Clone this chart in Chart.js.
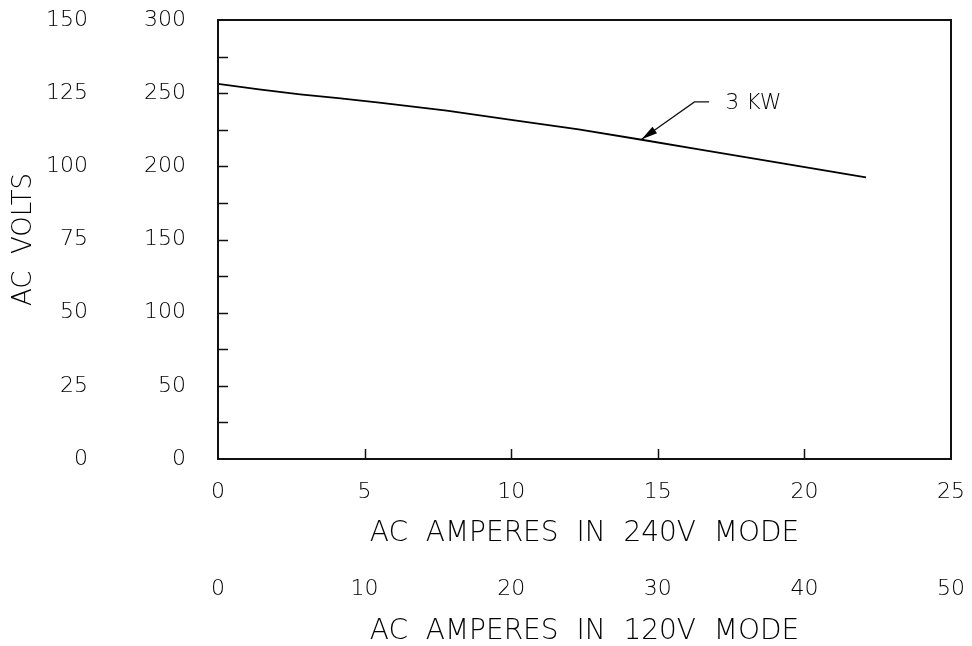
<!DOCTYPE html>
<html>
<head>
<meta charset="utf-8">
<script src="https://cdn.jsdelivr.net/npm/chart.js@4.4.1/dist/chart.umd.min.js"></script>
<style>
  html, body { margin: 0; padding: 0; background: #fff; }
  canvas { display: block; }
</style>
</head>
<body>
<canvas id="acChart" width="972" height="646"></canvas>
<script>
(() => {
  // 3 KW curve (amps in 240V mode vs volts on the 300 V scale)
  const AMPS_240 = [0, 1.4, 2.8, 4.1, 5.5, 7.8, 10.0, 12.3, 14.5, 16.4, 18.9, 22.1];
  const VOLTS_3KW = [256.3, 252.6, 249.2, 246.6, 243.5, 238.0, 231.7, 225.3, 218.0, 211.6, 203.2, 192.5];

  const X_RANGE_240 = [0, 25];
  const X_RANGE_120 = [0, 50];
  const Y_RANGE_240 = [0, 300];
  const Y_RANGE_120 = [0, 150];

  const SERIES_LABEL = "3 KW";
  // leader line for the label: tip on the curve, elbow, end (amps, volts)
  const LEADER = [[14.45, 218.5], [16.25, 244.0], [16.75, 244.0]];
  const LABEL_AT = [17.3, 243.0];

  const FONT = "'DejaVu Sans', Verdana, sans-serif";
  const INK = "#000";

  /* ---------- PLUGIN: frame, inward ticks, label ---------- */

  const frameAndNotes = {
    id: "frameAndNotes",
    afterDatasetsDraw(chart) {
      const { ctx, chartArea: a, scales: { x, y } } = chart;
      ctx.save();
      ctx.strokeStyle = "#111";
      ctx.lineWidth = 2;
      ctx.strokeRect(a.left, a.top, a.right - a.left, a.bottom - a.top);

      ctx.lineWidth = 1.5;
      ctx.beginPath();
      y.ticks.forEach(t => {
        if (t.value <= y.min || t.value >= y.max) return;
        const py = Math.round(y.getPixelForValue(t.value)) + 0.5;
        ctx.moveTo(a.left, py);
        ctx.lineTo(a.left + 10, py);
      });
      x.ticks.forEach(t => {
        if (t.value <= x.min || t.value >= x.max) return;
        const px = Math.round(x.getPixelForValue(t.value)) + 0.5;
        ctx.moveTo(px, a.bottom);
        ctx.lineTo(px, a.bottom - 10);
      });
      ctx.stroke();

      // leader + arrowhead
      const pts = LEADER.map(([ax, vy]) => [x.getPixelForValue(ax), y.getPixelForValue(vy)]);
      ctx.lineWidth = 1.3;
      ctx.beginPath();
      pts.forEach(([px, py], i) => (i ? ctx.lineTo(px, py) : ctx.moveTo(px, py)));
      ctx.stroke();

      const [tx, ty] = pts[0];
      const [nx, ny] = pts[1];
      const ang = Math.atan2(ny - ty, nx - tx);
      const len = 16, half = 4;
      const bx = tx + Math.cos(ang) * len, by = ty + Math.sin(ang) * len;
      ctx.fillStyle = INK;
      ctx.beginPath();
      ctx.moveTo(tx, ty);
      ctx.lineTo(bx - Math.sin(ang) * half, by + Math.cos(ang) * half);
      ctx.lineTo(bx + Math.sin(ang) * half, by - Math.cos(ang) * half);
      ctx.closePath();
      ctx.fill();

      ctx.font = `200 22px ${FONT}`;
      ctx.textAlign = "left";
      ctx.textBaseline = "middle";
      ctx.fillText(SERIES_LABEL, x.getPixelForValue(LABEL_AT[0]), y.getPixelForValue(LABEL_AT[1]));
      ctx.restore();
    }
  };

  /* ---------- CHART ---------- */

  const tickFont = { family: FONT, size: 22, weight: 200, lineHeight: 1.2 };
  const titleFont = { family: FONT, size: 28, weight: 200, lineHeight: 1 };

  function noGrid() {
    return { display: false, drawTicks: false };
  }

  // fixed box size, and no extra room asked for overflowing labels
  function fixBox(prop, size) {
    return s => {
      s[prop] = size;
      s.paddingTop = s.paddingBottom = s.paddingLeft = s.paddingRight = 0;
    };
  }

  new Chart(document.getElementById("acChart"), {
    type: "line",
    data: {
      datasets: [{
        label: SERIES_LABEL,
        data: AMPS_240.map((a, i) => ({ x: a, y: VOLTS_3KW[i] })),
        borderColor: "#000",
        borderWidth: 1.8,
        pointRadius: 0,
        tension: 0,
        xAxisID: "x",
        yAxisID: "y"
      }]
    },
    options: {
      responsive: false,
      animation: false,
      events: [],
      layout: { padding: { top: 20, right: 21, bottom: 0, left: 0 } },
      plugins: { legend: { display: false }, tooltip: { enabled: false } },
      scales: {
        x: {
          type: "linear", position: "bottom", weight: 0,
          min: X_RANGE_240[0], max: X_RANGE_240[1],
          grid: noGrid(), border: { display: false },
          ticks: { stepSize: 5, color: INK, font: tickFont, padding: 20, maxRotation: 0 },
          title: { display: true, text: "AC  AMPERES  IN  240V  MODE", color: INK, font: titleFont,
                   padding: { top: 0, bottom: 12 } },
          afterFit: fixBox("height", 101)
        },
        x2: {
          type: "linear", position: "bottom", weight: 1,
          min: X_RANGE_120[0], max: X_RANGE_120[1],
          grid: noGrid(), border: { display: false },
          ticks: { stepSize: 10, color: INK, font: tickFont, padding: 16, maxRotation: 0 },
          title: { display: true, text: "AC  AMPERES  IN  120V  MODE", color: INK, font: titleFont,
                   padding: { top: 0, bottom: 0 } },
          afterFit: fixBox("height", 86)
        },
        y: {
          type: "linear", position: "left", weight: 0,
          min: Y_RANGE_240[0], max: Y_RANGE_240[1],
          grid: noGrid(), border: { display: false },
          ticks: {
            stepSize: 25, color: INK, font: tickFont, padding: 32,
            callback: v => (v % 50 === 0 ? String(v) : "")
          },
          afterFit: fixBox("width", 118)
        },
        y2: {
          type: "linear", position: "left", weight: 1,
          min: Y_RANGE_120[0], max: Y_RANGE_120[1],
          grid: noGrid(), border: { display: false },
          ticks: { stepSize: 25, color: INK, font: tickFont, padding: 12 },
          title: { display: true, text: "AC  VOLTS", color: INK,
                   font: { family: FONT, size: 26, weight: 200, lineHeight: 1 },
                   padding: { top: 11, bottom: 0 } },
          afterFit: fixBox("width", 100)
        }
      }
    },
    plugins: [frameAndNotes]
  });
})();
</script>
</body>
</html>
